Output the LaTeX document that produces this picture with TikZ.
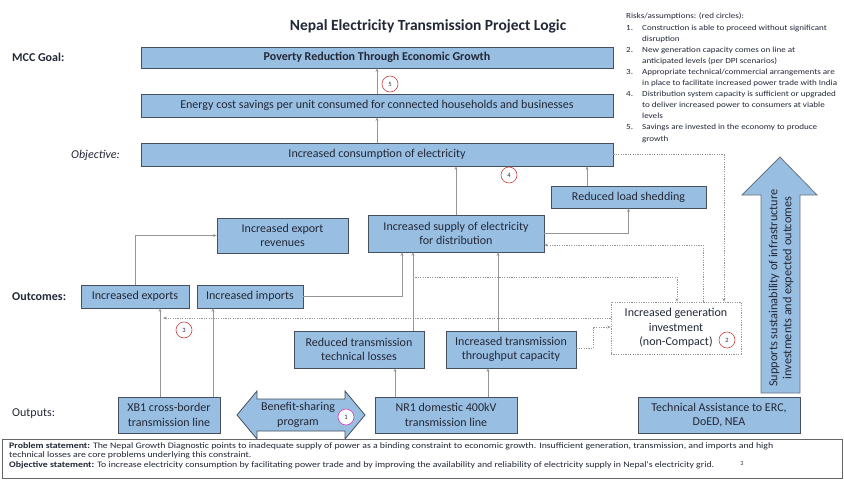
\documentclass[tikz,border=0pt]{standalone}
\usepackage{fontspec}
\setmainfont{Carlito}
\newfontfamily\stretchfont[FakeStretch=1.16]{Carlito}
\usetikzlibrary{arrows.meta,calc}
\definecolor{boxblue}{RGB}{152,190,226}
\definecolor{boxline}{RGB}{70,80,95}
\definecolor{txt}{RGB}{35,40,55}
\definecolor{connc}{RGB}{150,150,150}
\definecolor{riskred}{RGB}{200,70,70}
\definecolor{riskmag}{RGB}{215,60,180}
\begin{document}
\begin{tikzpicture}[x=1pt,y=-1pt,
  box/.style={draw=boxline, line width=0.8pt, fill=boxblue, inner sep=1pt, align=center,
    text=txt, font=\fontsize{12}{14.5}\selectfont},
  genbox/.style={draw=connc, dash pattern=on 1.2pt off 1.2pt, line width=0.7pt, fill=white,
    inner sep=1pt, align=center, text=txt, font=\fontsize{12}{14.5}\selectfont},
  conn/.style={draw=connc, line width=0.7pt, -{Stealth[length=3.5pt,width=3pt]}},
  dconn/.style={draw=connc, line width=0.7pt, dash pattern=on 1.2pt off 1.2pt,
    -{Stealth[length=3.5pt,width=3pt]}},
  riskc/.style={circle, draw=riskred, line width=0.6pt, fill=white, inner sep=0pt,
    minimum size=16pt, text=txt, font=\fontsize{6.5}{7}\selectfont},
  lbl/.style={anchor=west, text=txt, font=\fontsize{12}{14}\selectfont, inner sep=0pt}]
\useasboundingbox (0,0) rectangle (844,480);
\fill[white] (0,0) rectangle (844,480);

% title
\node[text=txt, font=\fontsize{15.5}{18}\selectfont\bfseries] (title) at (428,26) {Nepal Electricity Transmission Project Logic};

% left labels
\node[lbl, font=\fontsize{12}{14}\selectfont\bfseries] (lgoal) at (12,57) {MCC Goal:};
\node[lbl, anchor=east, font=\fontsize{12}{14}\selectfont\itshape] (lobj) at (120,155) {Objective:};
\node[lbl, font=\fontsize{12}{14}\selectfont\bfseries] (lout) at (12,297) {Outcomes:};
\node[lbl] (loutp) at (12,414) {Outputs:};

% boxes
\node[box, minimum width=472pt, minimum height=21pt, font=\fontsize{12}{14}\selectfont\bfseries] (goal) at (377,57.5) {Poverty Reduction Through Economic Growth};
\node[box, minimum width=472pt, minimum height=23pt] (energy) at (377,105.5) {Energy cost savings per unit consumed for connected households and businesses};
\node[box, minimum width=472pt, minimum height=23pt] (objective) at (377,154.5) {Increased consumption of electricity};
\node[box, minimum width=155pt, minimum height=22pt] (load) at (628.5,197) {Reduced load shedding};
\node[box, minimum width=131pt, minimum height=35pt] (revenues) at (282.5,235.5) {Increased export\\revenues};
\node[box, minimum width=176pt, minimum height=37pt] (supply) at (456,233.5) {Increased supply of electricity\\for distribution};
\node[box, minimum width=108pt, minimum height=23pt] (exports) at (135,296.5) {Increased exports};
\node[box, minimum width=106pt, minimum height=23pt] (imports) at (250,296.5) {Increased imports};
\node[genbox, minimum width=130pt, minimum height=52pt] (gen) at (676,328) {Increased generation\\investment\\(non-Compact)};
\node[box, minimum width=130pt, minimum height=37pt] (losses) at (359,349.5) {Reduced transmission\\technical losses};
\node[box, minimum width=130pt, minimum height=37pt] (thru) at (511,349.5) {Increased transmission\\throughput capacity};
\node[box, minimum width=102pt, minimum height=36pt] (xb1) at (169,415) {XB1 cross-border\\transmission line};
\node[box, minimum width=142pt, minimum height=36pt] (nr1) at (446,415) {NR1 domestic 400kV\\transmission line};
\node[box, minimum width=162pt, minimum height=36pt] (ta) at (719,415) {Technical Assistance to ERC,\\DoED, NEA};

% benefit-sharing double arrow
\draw[draw=boxline, line width=0.8pt, fill=boxblue]
  (237,415) -- (257,391) -- (257,399) -- (345,399) -- (345,391) -- (365,415)
  -- (345,439) -- (345,431) -- (257,431) -- (257,439) -- cycle;
\node[text=txt, align=center, font=\fontsize{12}{15}\selectfont] (benefit) at (298,415) {Benefit-sharing\\program};

% big up arrow
\draw[draw=boxline!80, line width=0.8pt, fill=boxblue]
  (761,393) -- (761,195) -- (742,195) -- (780,157) -- (817,195) -- (800,195) -- (800,393) -- cycle;
\node[rotate=90, text=txt, align=center, font=\fontsize{12.3}{14}\selectfont] (support) at (781,288) {Supports sustainability of infrastructure\\investments and expected outcomes};

% solid connectors
\draw[conn] (energy.north) -- (goal.south);
\draw[conn] (objective.north) -- (energy.south);
\draw[conn] (supply.north) -- (objective.south -| supply.north);
\draw[conn] (load.north -| 587,0) -- (objective.south -| 587,0);
\draw[conn] (supply.east) -| (load.south);
\draw[conn] (exports.north) |- (revenues.west);
\draw[conn] (imports.east) -| (supply.south -| 402,0);
\draw[conn] (losses.north -| 413,0) -- (supply.south -| 413,0);
\draw[conn] (thru.north -| 498,0) -- (supply.south -| 498,0);
\draw[conn] (xb1.north -| 160,0) -- (exports.south -| 160,0);
\draw[conn] (xb1.north -| 213,0) -- (imports.south -| 213,0);
\draw[conn] (nr1.north -| 395,0) -- (losses.south -| 395,0);
\draw[conn] (nr1.north -| 488,0) -- (thru.south -| 488,0);

% dotted connectors
\coordinate (lossline) at (413,277);
\coordinate (expline) at (163,318);
\draw[dconn] (gen.north -| 703,0) |- (supply.east |- 0,245);
\draw[dconn] (objective.east) -| (gen.north -| 724,0);
\draw[dconn] (lossline) -| (gen.north -| 677,0);
\draw[dconn] (gen.west |- 0,318) -- (expline);
\draw[dconn] (thru.east |- 0,348) -- (593,348) |- (gen.west |- 0,327);

% risk circles
\node[riskc] (r5) at (390,84) {5};
\node[riskc] (r4) at (509,175) {4};
\node[riskc] (r3) at (184,330) {3};
\node[riskc] (r2) at (727,340) {2};
\node[riskc, draw=riskmag] (r1) at (346,417) {1};

% risks text
\node[anchor=north west, inner sep=0pt, align=left, text=txt, font=\stretchfont\fontsize{7.8}{11.1}\selectfont] (risks) at (626,13) {%
Risks/assumptions: (red circles):\\
\makebox[16pt][l]{1.}Construction is able to proceed without significant\\
\makebox[16pt][l]{}disruption\\
\makebox[16pt][l]{2.}New generation capacity comes on line at\\
\makebox[16pt][l]{}anticipated levels (per DPI scenarios)\\
\makebox[16pt][l]{3.}Appropriate technical/commercial arrangements are\\
\makebox[16pt][l]{}in place to facilitate increased power trade with India\\
\makebox[16pt][l]{4.}Distribution system capacity is sufficient or upgraded\\
\makebox[16pt][l]{}to deliver increased power to consumers at viable\\
\makebox[16pt][l]{}levels\\
\makebox[16pt][l]{5.}Savings are invested in the economy to produce\\
\makebox[16pt][l]{}growth};

% bottom statement box
\node[draw=black!60, line width=0.7pt, fill=white, minimum width=840pt, minimum height=39pt, inner sep=0pt] (stmt) at (422,458.5) {};
\node[anchor=north west, inner sep=0pt, align=left, text=txt, font=\stretchfont\fontsize{8.45}{9.6}\selectfont] (stmttext) at (9,442) {%
\textbf{Problem statement:} The Nepal Growth Diagnostic points to inadequate supply of power as a binding constraint to economic growth. Insufficient generation, transmission, and imports and high\\
technical losses are core problems underlying this constraint.\\
\textbf{Objective statement:} To increase electricity consumption by facilitating power trade and by improving the availability and reliability of electricity supply in Nepal's electricity grid.};
\node[text=txt, inner sep=0pt, font=\fontsize{6}{7}\selectfont] (pnum) at (742,464) {3};
\end{tikzpicture}
\end{document}
